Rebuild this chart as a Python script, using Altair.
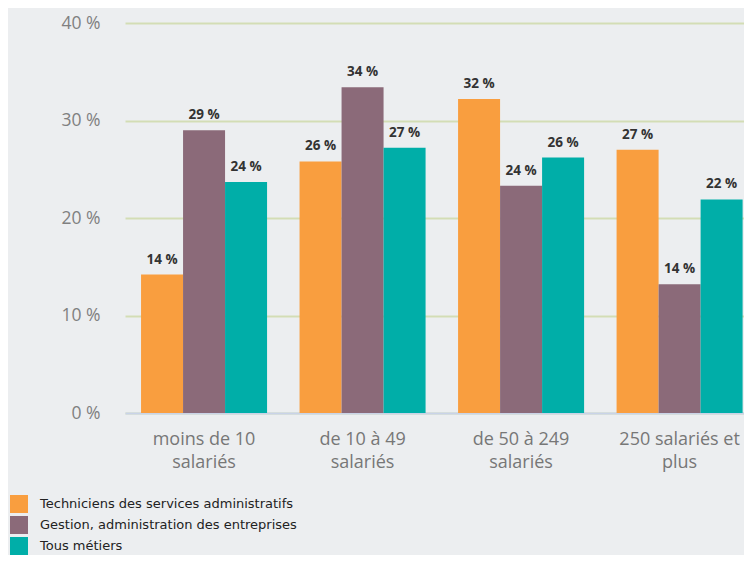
import altair as alt
import pandas as pd

categories = ["moins de 10\nsalariés", "de 10 à 49\nsalariés", "de 50 à 249\nsalariés", "250 salariés et\nplus"]
series = ["Techniciens des services administratifs", "Gestion, administration des entreprises", "Tous métiers"]
values = {
    "Techniciens des services administratifs": [14.2, 25.8, 32.2, 27.0],
    "Gestion, administration des entreprises": [29.0, 33.4, 23.3, 13.2],
    "Tous métiers": [23.7, 27.2, 26.2, 21.9],
}
labels = {
    "Techniciens des services administratifs": ["14 %", "26 %", "32 %", "27 %"],
    "Gestion, administration des entreprises": ["29 %", "34 %", "24 %", "14 %"],
    "Tous métiers": ["24 %", "27 %", "26 %", "22 %"],
}
colors = ["#f99e3f", "#8b6a79", "#00aea8"]
y_ticks = [0, 10, 20, 30, 40]

rows = []
for s in series:
    for i, c in enumerate(categories):
        rows.append({"cat": c, "serie": s, "value": values[s][i], "label": labels[s][i]})
df = pd.DataFrame(rows)

x = alt.X("cat:N", sort=categories, title=None,
          scale=alt.Scale(paddingInner=0.205, paddingOuter=0.055, align=0.92),
          axis=alt.Axis(labelAngle=0, labelExpr="split(datum.value, '\\n')",
                        labelFont="Open Sans", labelFontSize=18, labelColor="#777777",
                        labelPadding=17, labelLineHeight=23, ticks=False,
                        domain=True, domainColor="#c9d3e8", domainWidth=2, grid=False))
xo = alt.XOffset("serie:N", sort=series, scale=alt.Scale(paddingInner=0, paddingOuter=0))

base = alt.Chart(df)

bars = base.mark_bar().encode(
    x=x,
    xOffset=xo,
    y=alt.Y("value:Q", title=None,
            scale=alt.Scale(domain=[0, 40], nice=False),
            axis=alt.Axis(values=y_ticks, labelExpr="datum.value + ' %'",
                          labelFont="Open Sans", labelFontSize=17.5, labelColor="#808080",
                          labelPadding=25, ticks=False, domain=False,
                          grid=True, gridColor="#d3ddb5", gridWidth=2)),
    color=alt.Color("serie:N", sort=series, scale=alt.Scale(domain=series, range=colors),
                    legend=alt.Legend(title=None, orient="none", legendX=-115, legendY=472,
                                      symbolType="square", symbolSize=324, symbolStrokeWidth=0,
                                      symbolOpacity=1, labelFont="DejaVu Sans", labelFontSize=13,
                                      labelColor="#222222", labelOffset=12, rowPadding=3,
                                      labelLimit=0, padding=0, direction="vertical")),
)

text = base.mark_text(baseline="alphabetic", dy=-11, font="Open Sans", fontSize=13.5,
                      fontWeight="bold", color="#333333").encode(
    x=x,
    xOffset=xo,
    y="value:Q",
    text="label:N",
)

chart = (bars + text).properties(
    width=619, height=390,
    autosize=alt.AutoSizeParams(type="none"),
    padding={"left": 117, "top": 15, "right": 0, "bottom": 142},
    background="#eceef0",
).configure_view(stroke=None)

chart.save("out.html", embed_options={"renderer": "svg", "actions": False})
